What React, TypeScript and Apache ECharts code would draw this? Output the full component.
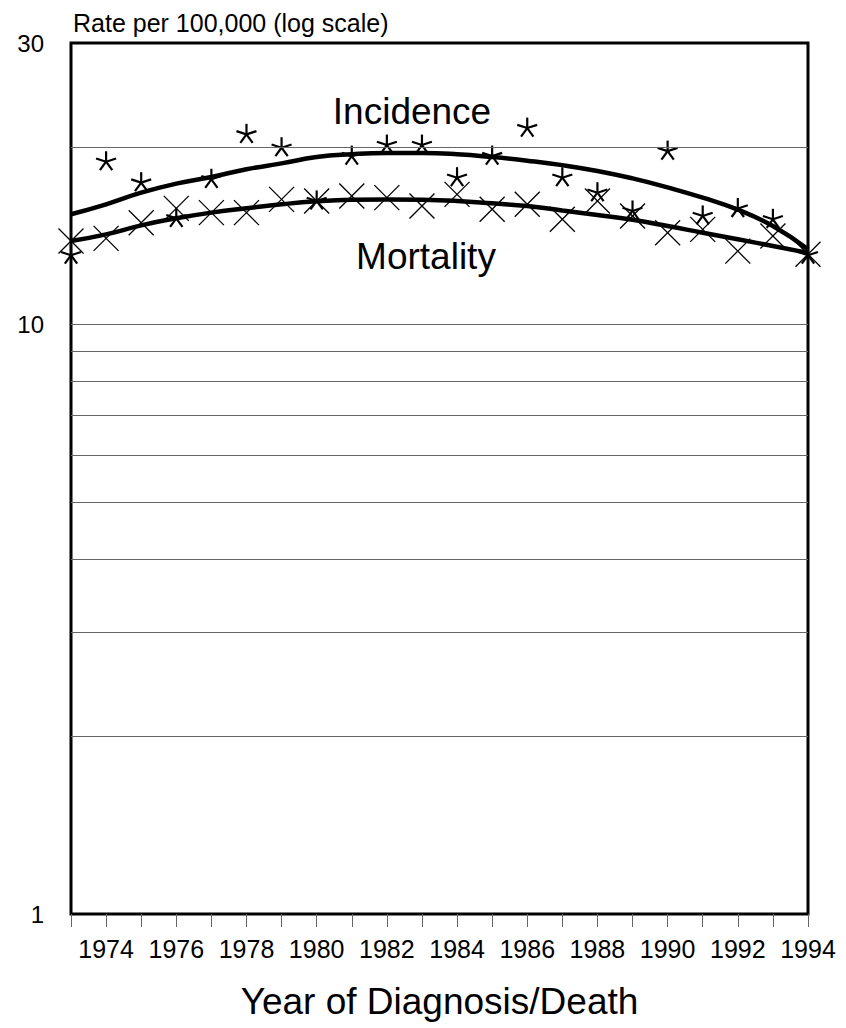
import React, { useEffect, useRef } from 'react';
import * as echarts from 'echarts';

const years = [1973, 1974, 1975, 1976, 1977, 1978, 1979, 1980, 1981, 1982, 1983, 1984, 1985, 1986, 1987, 1988, 1989, 1990, 1991, 1992, 1993, 1994];
const incidenceObserved = [13.1, 18.87, 17.39, 15.13, 17.62, 21.0, 19.93, 16.19, 19.29, 20.14, 20.14, 17.73, 19.29, 21.52, 17.73, 16.72, 15.57, 19.67, 15.27, 15.72, 15.07, 13.1];
const mortalityObserved = [13.85, 13.99, 14.87, 15.73, 15.47, 15.47, 16.29, 16.19, 16.51, 16.4, 15.87, 16.61, 15.67, 15.98, 15.07, 16.19, 15.27, 14.3, 14.49, 13.31, 14.12, 13.15];
const incidenceFit = [15.37, 15.98, 16.72, 17.32, 17.78, 18.32, 18.75, 19.22, 19.43, 19.52, 19.52, 19.43, 19.22, 18.95, 18.62, 18.2, 17.68, 17.07, 16.4, 15.65, 14.68, 13.4];
const mortalityFit = [13.85, 14.21, 14.72, 15.13, 15.47, 15.73, 15.98, 16.17, 16.27, 16.29, 16.27, 16.19, 16.04, 15.87, 15.6, 15.33, 15.04, 14.68, 14.3, 13.94, 13.58, 13.22];
const gridValues = [2, 3, 4, 5, 6, 7, 8, 9, 10, 20];
const yTitle = 'Rate per 100,000 (log scale)';
const xTitle = 'Year of Diagnosis/Death';
const incidenceLabel = 'Incidence';
const mortalityLabel = 'Mortality';

const FONT = '"Liberation Sans", Arial, Helvetica, sans-serif';
const ASTERISK_ANGLES = [0, 72, 144, 216, 288];

function asteriskRender(_params: any, api: any) {
  const pt = api.coord([api.value(0), api.value(1)]);
  const r = 10.5;
  return {
    type: 'group',
    children: ASTERISK_ANGLES.map((deg) => {
      const a = (deg * Math.PI) / 180;
      return {
        type: 'line',
        shape: { x1: pt[0], y1: pt[1], x2: pt[0] + r * Math.sin(a), y2: pt[1] - r * Math.cos(a) },
        style: { stroke: '#000', lineWidth: 2.2 },
      };
    }),
  };
}

function crossRender(_params: any, api: any) {
  const pt = api.coord([api.value(0), api.value(1)]);
  const h = 12.5;
  return {
    type: 'group',
    children: [
      { type: 'line', shape: { x1: pt[0] - h, y1: pt[1] - h, x2: pt[0] + h, y2: pt[1] + h }, style: { stroke: '#000', lineWidth: 1.3 } },
      { type: 'line', shape: { x1: pt[0] - h, y1: pt[1] + h, x2: pt[0] + h, y2: pt[1] - h }, style: { stroke: '#000', lineWidth: 1.3 } },
    ],
  };
}

export default function App() {
  const ref = useRef<HTMLDivElement>(null);
  useEffect(() => {
    if (!ref.current) return;
    const chart = echarts.init(ref.current, undefined, { renderer: 'svg' });
    const pairs = (vals: number[]) => years.map((y, i) => [y, vals[i]]);
    chart.setOption({
      animation: false,
      backgroundColor: '#fff',
      textStyle: { fontFamily: FONT },
      title: {
        text: yTitle,
        left: 68,
        top: 5,
        textStyle: { fontSize: 25, fontWeight: 'normal', color: '#000', fontFamily: FONT },
      },
      grid: {
        left: 71,
        top: 43,
        right: 38,
        bottom: 114,
        show: true,
        borderColor: '#000',
        borderWidth: 3,
        backgroundColor: 'transparent',
      },
      xAxis: {
        type: 'value',
        min: 1973,
        max: 1994,
        interval: 1,
        name: xTitle,
        nameLocation: 'middle',
        nameGap: 69,
        nameTextStyle: { fontSize: 37, color: '#000', fontFamily: FONT },
        axisLine: { show: false },
        axisTick: { show: true, length: 13, lineStyle: { color: '#666', width: 1 } },
        axisLabel: {
          fontSize: 25,
          color: '#000',
          margin: 22,
          fontFamily: FONT,
          formatter: (v: number) => (v % 2 === 0 ? String(v) : ''),
        },
        splitLine: { show: false },
      },
      yAxis: {
        type: 'log',
        logBase: 10,
        min: 1,
        max: 30,
        axisLine: { show: false },
        axisTick: { show: false },
        axisLabel: { fontSize: 24, color: '#000', margin: 27, fontFamily: FONT },
        splitLine: { show: false },
      },
      series: [
        {
          type: 'line',
          name: 'gridlines',
          data: [],
          markLine: {
            silent: true,
            symbol: ['none', 'none'],
            label: { show: false },
            lineStyle: { color: '#666', width: 1, type: 'solid' },
            data: gridValues.map((v) => ({ yAxis: v })),
          },
        },
        {
          type: 'line',
          name: 'Incidence fit',
          data: pairs(incidenceFit),
          smooth: 0.5,
          symbol: 'none',
          lineStyle: { color: '#000', width: 4.5 },
          z: 3,
        },
        {
          type: 'line',
          name: 'Mortality fit',
          data: pairs(mortalityFit),
          smooth: 0.5,
          symbol: 'none',
          lineStyle: { color: '#000', width: 4.5 },
          z: 3,
        },
        {
          type: 'custom',
          name: 'Incidence',
          data: pairs(incidenceObserved),
          encode: { x: 0, y: 1 },
          renderItem: asteriskRender,
          clip: false,
          z: 4,
        },
        {
          type: 'custom',
          name: 'Mortality',
          data: pairs(mortalityObserved),
          encode: { x: 0, y: 1 },
          renderItem: crossRender,
          clip: false,
          z: 4,
        },
      ],
      graphic: [
        {
          type: 'text',
          x: 412,
          y: 111,
          style: { text: incidenceLabel, fontSize: 37, fill: '#000', fontFamily: FONT, align: 'center', verticalAlign: 'middle' },
        },
        {
          type: 'text',
          x: 426,
          y: 256,
          style: { text: mortalityLabel, fontSize: 37, fill: '#000', fontFamily: FONT, align: 'center', verticalAlign: 'middle' },
        },
      ],
    });
    return () => chart.dispose();
  }, []);
  return (
    <div
      ref={ref}
      style={{ position: 'absolute', left: 0, top: 0, width: 846, height: 1028, background: '#fff' }}
    />
  );
}
